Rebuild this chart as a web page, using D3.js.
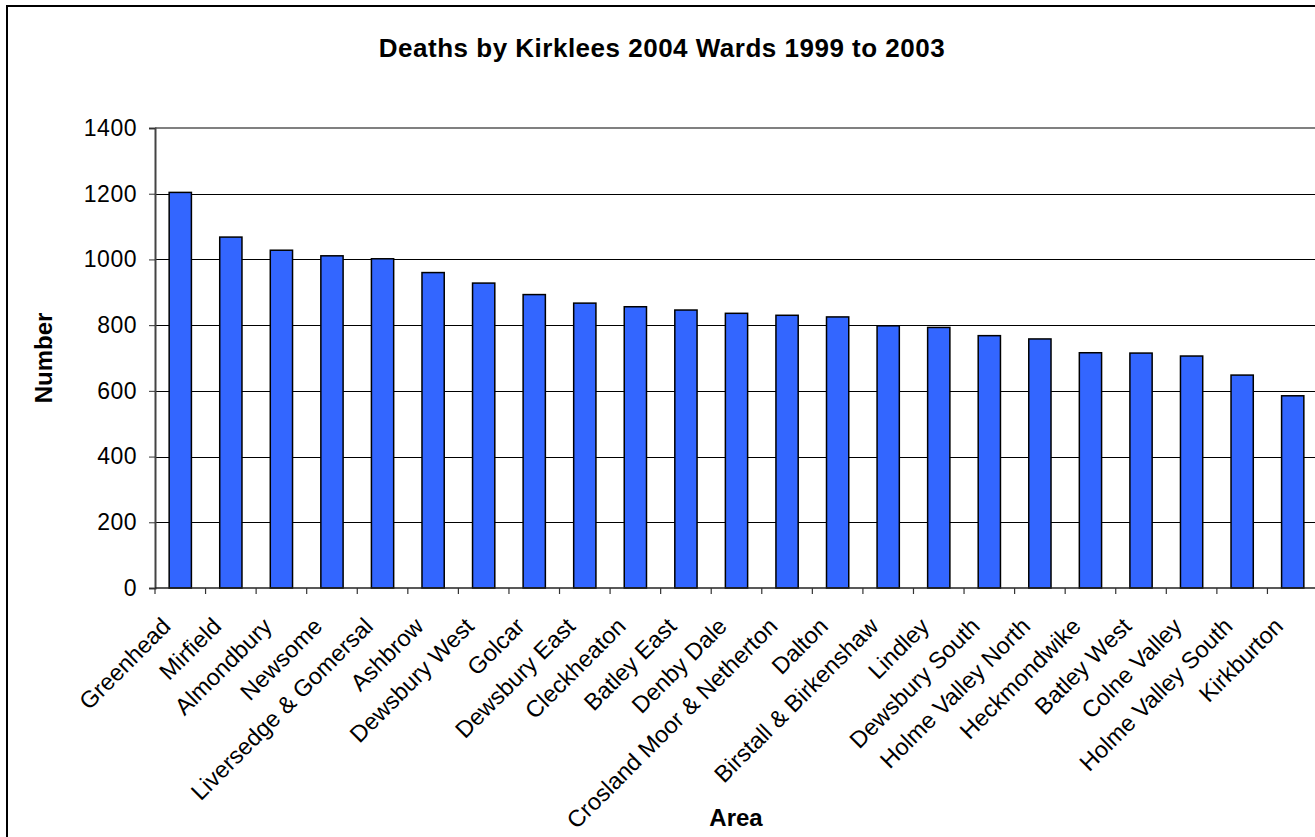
<!DOCTYPE html>
<html>
<head>
<meta charset="utf-8">
<script src="https://cdn.jsdelivr.net/npm/d3@7"></script>
<style>
  html, body { margin: 0; padding: 0; background: #fff; overflow: hidden; }
  svg { display: block; font-family: "Liberation Sans", Arial, sans-serif; }
</style>
</head>
<body>
<svg id="chart" width="1315" height="837"></svg>
<script>
// Kirklees wards, deaths 1999-2003
const wards = [
  "Greenhead", "Mirfield", "Almondbury", "Newsome", "Liversedge & Gomersal",
  "Ashbrow", "Dewsbury West", "Golcar", "Dewsbury East", "Cleckheaton",
  "Batley East", "Denby Dale", "Crosland Moor & Netherton", "Dalton",
  "Birstall & Birkenshaw", "Lindley", "Dewsbury South", "Holme Valley North",
  "Heckmondwike", "Batley West", "Colne Valley", "Holme Valley South", "Kirkburton"
];
const deaths = [
  1204, 1068, 1028, 1011, 1002,
  960, 928, 893, 867, 856,
  846, 836, 830, 825,
  798, 793, 768, 758,
  716, 715, 706, 648, 585
];
const yTicks = [0, 200, 400, 600, 800, 1000, 1200, 1400];

const chartTitle = "Deaths by Kirklees 2004 Wards 1999 to 2003";
const yTitle = "Number";
const xTitle = "Area";

const svg = d3.select("#chart");

const plot = { left: 155, right: 1318, top: 128, bottom: 588 };

// outer chart frame
svg.append("rect")
  .attr("x", 7).attr("y", 6)
  .attr("width", 1330).attr("height", 860)
  .attr("fill", "#fff")
  .attr("stroke", "#000")
  .attr("stroke-width", 2);

const x = d3.scaleBand()
  .domain(wards)
  .range([plot.left, plot.right])
  .paddingInner(0.56)
  .paddingOuter(0.28);

const y = d3.scaleLinear()
  .domain([0, 1400])
  .range([plot.bottom, plot.top]);

// horizontal gridlines
svg.append("g")
  .selectAll("line")
  .data(yTicks.filter(t => t > 0 && t < 1400))
  .join("line")
  .attr("x1", plot.left).attr("x2", plot.right)
  .attr("y1", d => Math.round(y(d)) + 0.5)
  .attr("y2", d => Math.round(y(d)) + 0.5)
  .attr("stroke", "#000")
  .attr("stroke-width", 1);

// plot area top border
svg.append("line")
  .attr("x1", plot.left).attr("x2", plot.right)
  .attr("y1", y(1400)).attr("y2", y(1400))
  .attr("stroke", "#808080")
  .attr("stroke-width", 2);

// bars
svg.append("g")
  .selectAll("rect")
  .data(wards)
  .join("rect")
  .attr("x", d => x(d))
  .attr("width", x.bandwidth())
  .attr("y", (d, i) => y(deaths[i]))
  .attr("height", (d, i) => y(0) - y(deaths[i]))
  .attr("fill", "#3366FF")
  .attr("stroke", "#000")
  .attr("stroke-width", 1.5);

// y axis
const yAxis = svg.append("g")
  .attr("transform", `translate(${plot.left},0)`)
  .call(d3.axisLeft(y).tickValues(yTicks).tickSize(6).tickPadding(12).tickFormat(d3.format("d")));
yAxis.select(".domain").attr("stroke", "#444").attr("stroke-width", 2);
yAxis.selectAll(".tick line").attr("stroke", "#333");
yAxis.selectAll(".tick text")
  .attr("font-size", 23)
  .attr("letter-spacing", 0.5)
  .attr("fill", "#000")
  .attr("font-family", "Liberation Sans, Arial, sans-serif");

// x axis with ticks on the band boundaries
const xAxisG = svg.append("g");
xAxisG.append("line")
  .attr("x1", plot.left).attr("x2", plot.right)
  .attr("y1", plot.bottom).attr("y2", plot.bottom)
  .attr("stroke", "#222").attr("stroke-width", 1.5);
const step = x.step();
const boundaries = wards.map(w => x(w) - (step - x.bandwidth()) / 2);
xAxisG.selectAll("line.tk")
  .data(boundaries)
  .join("line")
  .attr("class", "tk")
  .attr("x1", d => d).attr("x2", d => d)
  .attr("y1", plot.bottom).attr("y2", plot.bottom + 6)
  .attr("stroke", "#333").attr("stroke-width", 1.2);

// rotated category labels
xAxisG.selectAll("text")
  .data(wards)
  .join("text")
  .attr("transform", d => `translate(${x(d) + x.bandwidth() / 2 - 14},${plot.bottom + 34}) rotate(-45)`)
  .attr("text-anchor", "end")
  .attr("dy", "0.35em")
  .attr("font-size", 23.5)
  .attr("fill", "#000")
  .text(d => d);

// titles
svg.append("text")
  .attr("x", 662).attr("y", 57)
  .attr("text-anchor", "middle")
  .attr("font-size", 26)
  .attr("letter-spacing", 0.5)
  .attr("font-weight", "bold")
  .text(chartTitle);

svg.append("text")
  .attr("transform", "translate(52,358) rotate(-90)")
  .attr("text-anchor", "middle")
  .attr("font-size", 24)
  .attr("font-weight", "bold")
  .text(yTitle);

svg.append("text")
  .attr("x", 736).attr("y", 826)
  .attr("text-anchor", "middle")
  .attr("font-size", 24)
  .attr("font-weight", "bold")
  .text(xTitle);
</script>
</body>
</html>
